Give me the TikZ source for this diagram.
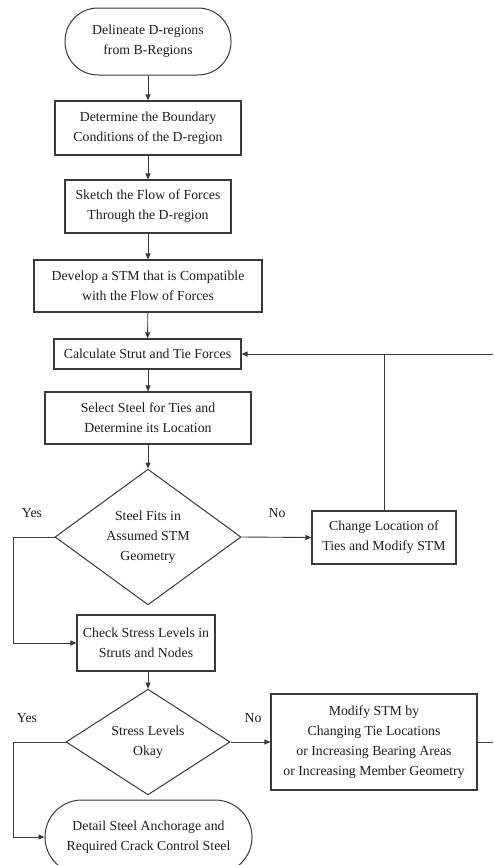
\documentclass[tikz,border=0pt]{standalone}
\usepackage{fontspec}
\setmainfont{Liberation Serif}
\usetikzlibrary{shapes.geometric,arrows.meta}
\definecolor{ln}{HTML}{3A3A3A}
\definecolor{tx}{HTML}{1E1E1E}
\tikzset{
  every node/.style={font=\fontsize{13.8}{20}\selectfont, text=tx, align=center},
  box/.style={draw=ln, line width=1.1pt, rectangle, inner sep=0pt},
  term/.style={draw=ln, line width=1pt, rectangle, inner sep=0pt},
  dia/.style={draw=ln, line width=1pt, diamond, inner sep=0pt},
  lnk/.style={draw=ln, line width=0.9pt},
  arr/.style={lnk, -{Triangle[length=6pt,width=5pt]}},
  lbl/.style={inner sep=0pt}
}
\begin{document}
\begin{tikzpicture}[x=1pt,y=-1pt]
\useasboundingbox (0,0) rectangle (493,865);
\fill[white] (0,0) rectangle (493,865);
\node[term, rounded corners=33pt, minimum width=166pt, minimum height=67pt] (s) at (148,41.5) {Delineate D-regions\\from B-Regions};
\node[box, minimum width=186pt, minimum height=54pt] (b2) at (148,128) {Determine the Boundary\\Conditions of the D-region};
\node[box, minimum width=166pt, minimum height=53pt] (b3) at (148,206.5) {Sketch the Flow of Forces\\Through the D-region};
\node[box, minimum width=228pt, minimum height=52pt] (b4) at (148,286) {Develop a STM that is Compatible\\with the Flow of Forces};
\node[box, minimum width=187pt, minimum height=30pt] (b5) at (147.5,354) {Calculate Strut and Tie Forces};
\node[box, minimum width=206pt, minimum height=52pt] (b6) at (148,418) {Select Steel for Ties and\\Determine its Location};
\node[dia, minimum width=186pt, minimum height=130pt] (d1) at (148,537) {Steel Fits in\\Assumed STM\\Geometry};
\node[box, minimum width=144pt, minimum height=53pt] (ch) at (384,537.5) {Change Location of\\Ties and Modify STM};
\node[box, minimum width=138pt, minimum height=56pt] (ck) at (146,643) {Check Stress Levels in\\Struts and Nodes};
\node[dia, minimum width=164pt, minimum height=93pt] (d2) at (148,742) {Stress Levels\\Okay};
\node[box, minimum width=206pt, minimum height=96pt] (md) at (374,742) {Modify STM by\\Changing Tie Locations\\or Increasing Bearing Areas\\or Increasing Member Geometry};
\node[term, rounded corners=37pt, minimum width=207pt, minimum height=74pt] (e) at (148.5,837) {Detail Steel Anchorage and\\Required Crack Control Steel};
\node[lbl] (y1) at (32,513) {Yes};
\node[lbl] (n1) at (277,513) {No};
\node[lbl] (y2) at (27,718) {Yes};
\node[lbl] (n2) at (253,718) {No};
\coordinate (r1) at (493,354);
\coordinate (r2) at (493,742);
\coordinate (l1) at (13,537);
\coordinate (l2) at (13,742);
\draw[arr] (s) -- (b2);
\draw[arr] (b2) -- (b3);
\draw[arr] (b3) -- (b4);
\draw[arr] (b4) -- (b5);
\draw[arr] (b5.south -| b6.north) -- (b6);
\draw[arr] (b6) -- (d1);
\draw[arr] (d1.east) -- (ch.west);
\draw[lnk] (ch.north) -- (ch.north |- r1);
\draw[arr] (r1) -- (b5.east);
\draw[arr] (d1.west) -- (l1) |- (ck.west);
\draw[arr] (ck.south -| d2.north) -- (d2.north);
\draw[arr] (d2.east) -- (md.west);
\draw[lnk] (md.east) -- (r2);
\draw[arr] (d2.west) -- (l2) |- (e.west);
\end{tikzpicture}
\end{document}
